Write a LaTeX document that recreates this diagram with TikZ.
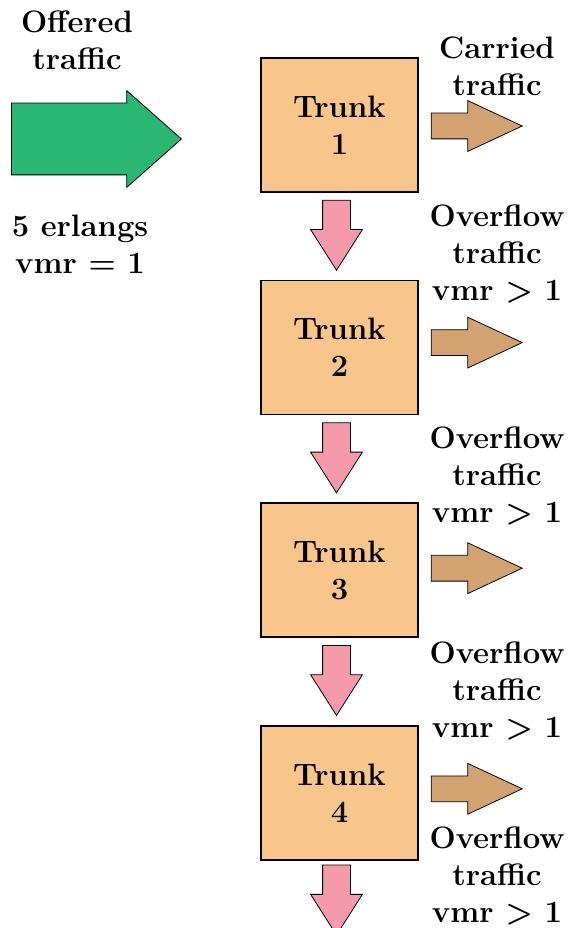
\documentclass[tikz,border=0pt]{standalone}
\usepackage{fontspec}
\usetikzlibrary{positioning,shapes.arrows,calc}
\definecolor{trunkfill}{RGB}{248,198,138}
\definecolor{offergreen}{RGB}{42,182,115}
\definecolor{carrybrown}{RGB}{210,162,112}
\definecolor{overpink}{RGB}{244,154,170}
\tikzset{trunk/.style={draw, line width=1.6pt, fill=trunkfill, minimum width=157pt, minimum height=134pt, align=center, inner sep=0pt},
    txt/.style={align=center, inner sep=0pt},
    fat/.style={single arrow, draw, line width=0.8pt, single arrow head indent=0pt, anchor=tail},
    offerarrow/.style={fat, fill=offergreen, inner xsep=0pt, inner ysep=35.5pt, minimum height=170pt, single arrow head extend=12.5pt, single arrow tip angle=83},
    carryarrow/.style={fat, fill=carrybrown, inner xsep=0pt, inner ysep=12.5pt, minimum height=91pt, single arrow head extend=12.5pt, single arrow tip angle=50},
    overarrow/.style={fat, fill=overpink, inner ysep=0pt, inner xsep=13.5pt, minimum height=70pt, single arrow head extend=12pt, single arrow tip angle=65, shape border rotate=270}}

\begin{document}
\begin{tikzpicture}[x=1pt, y=1pt, node distance=87pt, font=\fontsize{31}{37}\selectfont\bfseries]
    \useasboundingbox (0,0) rectangle (567,-928);

    \node[trunk]                (t1) at (339.5,-125) {Trunk\\1};
    \node[trunk,below=of t1]    (t2) {Trunk\\2};
    \node[trunk,below=of t2]    (t3) {Trunk\\3};
    \node[trunk,below=of t3]    (t4) {Trunk\\4};

    % offered traffic
    \node[offerarrow]           (in) at (11,-139) {};
    \node[txt]                  (offer) at (77,-40) {Offered\\traffic};
    \node[txt]                  (erl) at (80,-244) {5 erlangs\\vmr = 1};

    % carried traffic out of each trunk
    \node[carryarrow]           (c1) at ($(t1.east)+(12,-1)$) {};
    \node[carryarrow]           (c2) at ($(t2.east)+(12,5)$) {};
    \node[carryarrow]           (c3) at ($(t3.east)+(12,2)$) {};
    \node[carryarrow]           (c4) at ($(t4.east)+(12,4)$) {};
    \node[txt]                  (carry) at (497,-66) {Carried\\traffic};

    % overflow to the next trunk
    \node[overarrow]            (p1) at ($(t1.south)+(-3,-7)$) {};
    \node[overarrow]            (p2) at ($(t2.south)+(-3,-7)$) {};
    \node[overarrow]            (p3) at ($(t3.south)+(-3,-7)$) {};
    \node[overarrow]            (p4) at ($(t4.south)+(-3,-4)$) {};
    \node[txt]                  (o1) at (497,-254) {Overflow\\traffic\\vmr > 1};
    \node[txt]                  (o2) at (497,-476) {Overflow\\traffic\\vmr > 1};
    \node[txt]                  (o3) at (497,-691) {Overflow\\traffic\\vmr > 1};
    \node[txt]                  (o4) at (497,-876) {Overflow\\traffic\\vmr > 1};
\end{tikzpicture}
\end{document}
